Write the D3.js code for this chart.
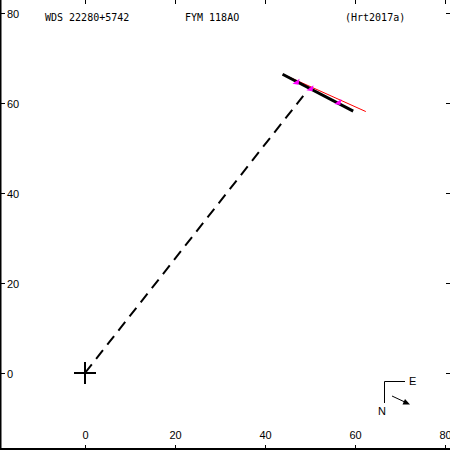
<!DOCTYPE html>
<html><head><meta charset="utf-8">
<script src="https://cdn.jsdelivr.net/npm/d3@7"></script>
<style>body{margin:0;background:#fff}svg{display:block}</style>
</head><body>
<script>
const xTicks = [0, 20, 40, 60, 80];
const yTicks = [0, 20, 40, 60, 80];
const titles = ["WDS 22280+5742", "FYM 118AO", "(Hrt2017a)"];
const orbit = [[43.9, 66.4], [59.6, 58.2]];
const redLine = [[44.4, 66.2], [62.4, 58.1]];
const obs = [[47.0, 64.7], [50.1, 63.3], [56.3, 60.2]];
const nodeLine = [[0, 0], [48.5, 61.6]];

const W = 450, H = 450;
const x = d3.scaleLinear().domain([-18.89, 81.11]).range([0, W]);
const y = d3.scaleLinear().domain([-17.11, 82.89]).range([H, 0]);
const svg = d3.select("body").append("svg").attr("width", W).attr("height", H);

svg.append("line").attr("x1",0.5).attr("x2",0.5).attr("y1",0).attr("y2",H).attr("stroke","#000").attr("stroke-width",2);
svg.append("line").attr("x1",0).attr("x2",W).attr("y1",H-1).attr("y2",H-1).attr("stroke","#000").attr("stroke-width",2);

const font = "Liberation Sans, Arial, sans-serif";
xTicks.forEach(t => {
  const px = Math.round(x(t)) + 0.5;
  svg.append("line").attr("x1",px).attr("x2",px).attr("y1",H-5).attr("y2",H).attr("stroke","#000");
  svg.append("line").attr("x1",px).attr("x2",px).attr("y1",0).attr("y2",4).attr("stroke","#000");
  svg.append("text").attr("x",px).attr("y",439).attr("text-anchor","middle")
    .attr("font-family",font).attr("font-size",11).text(t);
});
yTicks.forEach(t => {
  const py = Math.round(y(t)) + 0.5;
  svg.append("line").attr("x1",0).attr("x2",5).attr("y1",py).attr("y2",py).attr("stroke","#000");
  svg.append("line").attr("x1",W-4).attr("x2",W).attr("y1",py).attr("y2",py).attr("stroke","#000");
  svg.append("text").attr("x",7).attr("y",py+4).attr("font-family",font).attr("font-size",11).text(t);
});

const tx = [45, 185, 345];
titles.forEach((s,i) => svg.append("text").attr("x",tx[i]).attr("y",21)
  .attr("font-family","DejaVu Sans Mono, monospace").attr("font-size",10).text(s));

const line = d3.line().x(d => x(d[0])).y(d => y(d[1]));
svg.append("path").attr("d", line(nodeLine)).attr("stroke","#000").attr("stroke-width",2)
  .attr("stroke-dasharray","11,7").attr("fill","none");
svg.append("path").attr("d", line(redLine)).attr("stroke","#f00").attr("stroke-width",1).attr("fill","none");
svg.append("path").attr("d", line(orbit)).attr("stroke","#000").attr("stroke-width",3).attr("fill","none");

const [p0, p1] = orbit;
const dx = p1[0]-p0[0], dy = p1[1]-p0[1], L2 = dx*dx+dy*dy;
obs.forEach(o => {
  const t = ((o[0]-p0[0])*dx + (o[1]-p0[1])*dy)/L2;
  const q = [p0[0]+t*dx, p0[1]+t*dy];
  svg.append("path").attr("d", line([o,q])).attr("stroke","#f0f").attr("stroke-width",2.5);
  svg.append("path").attr("transform",`translate(${x(o[0])},${y(o[1])})`)
    .attr("d","M-4,2L3,-3L2,3Z").attr("fill","#f0f");
});

const cx = x(0), cy = y(0);
svg.append("line").attr("x1",cx-11).attr("x2",cx+11).attr("y1",cy).attr("y2",cy).attr("stroke","#000").attr("stroke-width",2);
svg.append("line").attr("x1",cx).attr("x2",cx).attr("y1",cy-11).attr("y2",cy+11).attr("stroke","#000").attr("stroke-width",2);

svg.append("path").attr("d","M405,381.5H384.5V403").attr("stroke","#000").attr("fill","none");
svg.append("text").attr("x",409).attr("y",385).attr("font-family",font).attr("font-size",11).text("E");
svg.append("text").attr("x",378).attr("y",415).attr("font-family",font).attr("font-size",11).text("N");
svg.append("line").attr("x1",392).attr("y1",396).attr("x2",408).attr("y2",403.5).attr("stroke","#000");
svg.append("path").attr("d","M410,404.5L402.5,404.5L405,399Z").attr("fill","#000");
</script>
</body></html>
